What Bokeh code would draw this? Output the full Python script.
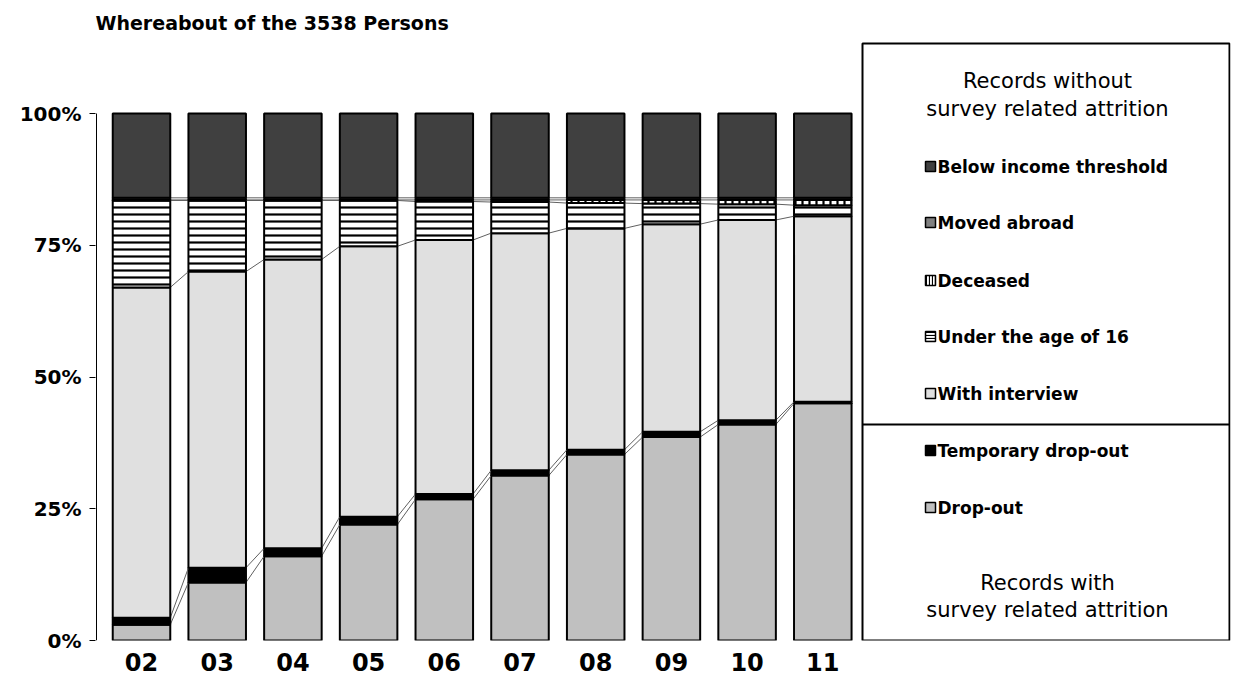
from bokeh.plotting import figure
from bokeh.models import Label, FixedTicker, Range1d
from bokeh.embed import file_html
from bokeh.resources import INLINE

years = ['02', '03', '04', '05', '06', '07', '08', '09', '10', '11']
# shares in percent, bottom to top
dropout = [3.0, 11.0, 16.0, 22.0, 26.8, 31.3, 35.3, 38.6, 41.0, 45.0]
temp_dropout = [1.3, 2.8, 1.5, 1.5, 1.0, 1.0, 0.9, 1.0, 0.8, 0.3]
interview = [62.7, 56.2, 54.8, 51.3, 48.2, 45.0, 42.0, 39.4, 38.0, 35.2]
under16 = [16.5, 13.5, 11.2, 8.7, 7.3, 5.9, 4.8, 3.9, 3.0, 2.1]
deceased = [0.1, 0.1, 0.1, 0.1, 0.3, 0.4, 0.6, 0.7, 0.8, 1.0]
moved = [0.4, 0.4, 0.4, 0.4, 0.4, 0.4, 0.4, 0.4, 0.4, 0.4]
below_income = [16.0, 16.0, 16.0, 16.0, 16.0, 16.0, 16.0, 16.0, 16.0, 16.0]

layers = [
    (dropout, '#c0c0c0', None),
    (temp_dropout, '#000000', None),
    (interview, '#e0e0e0', None),
    (under16, 'white', 'horizontal_line'),
    (deceased, 'white', 'vertical_line'),
    (moved, '#808080', None),
    (below_income, '#404040', None),
]
names = ['Drop-out', 'Temporary drop-out', 'With interview', 'Under the age of 16',
         'Deceased', 'Moved abroad', 'Below income threshold']

FONT = 'DejaVu Sans'
x = list(range(len(years)))
half = 0.38

# helpers: page pixel -> data coordinates (100% at y=113, 0% at y=640, bars 75.7px apart)
def vy(py):
    return (640 - py) / 5.27

def vx(px):
    return (px - 141) / 75.7

p = figure(width=1232, height=690, x_range=Range1d(vx(95), vx(1230)), y_range=Range1d(0, vy(8)),
           output_backend="svg", toolbar_location=None,
           min_border_left=95, min_border_right=2, min_border_top=8, min_border_bottom=50)
p.outline_line_color = None
p.grid.visible = False

bottoms = [0.0] * len(years)
for n, (vals, col, hatch) in enumerate(layers):
    tops = [b + v for b, v in zip(bottoms, vals)]
    kw = dict(hatch_pattern=hatch, hatch_color='black', hatch_scale=7, hatch_weight=2.2) if hatch else {}
    p.vbar(x=x, width=2 * half, bottom=bottoms, top=tops, fill_color=col,
           line_color='black', line_width=2, **kw)
    # connector lines between bars (not on top of the last layer)
    if n < len(layers) - 1:
        p.segment(x0=[i + half for i in x[:-1]], y0=tops[:-1], x1=[i - half for i in x[1:]],
                  y1=tops[1:], line_color='#606060', line_width=1)
    bottoms = tops

# y axis line only from 0 to 100
p.segment(x0=[vx(96)], y0=[0], x1=[vx(96)], y1=[100], line_color='black', line_width=1)

p.yaxis.ticker = FixedTicker(ticks=[0, 25, 50, 75, 100])
p.yaxis.major_label_overrides = {0: '0%', 25: '25%', 50: '50%', 75: '75%', 100: '100%'}
p.xaxis.ticker = FixedTicker(ticks=x)
p.xaxis.major_label_overrides = {i: y for i, y in enumerate(years)}
for ax in (p.xaxis, p.yaxis):
    ax.major_label_text_font = FONT
    ax.major_label_text_font_style = 'bold'
    ax.major_label_text_color = 'black'
    ax.axis_line_color = None
    ax.minor_tick_line_color = None
p.yaxis.major_label_text_font_size = '20px'
p.xaxis.major_label_text_font_size = '24px'
p.xaxis.major_tick_line_color = None
p.xaxis.major_label_standoff = 6
p.yaxis.major_tick_in = 0
p.yaxis.major_tick_out = 6
p.yaxis.major_label_standoff = 8

p.add_layout(Label(x=vx(95), y=vy(22), text='Whereabout of the 3538 Persons', text_font=FONT,
                   text_font_style='bold', text_font_size='19px', text_color='black',
                   text_baseline='middle'))

# legend panel
p.quad(left=[vx(862)], right=[vx(1229)], bottom=[vy(640)], top=[vy(43)], fill_color=None,
       line_color='black', line_width=2)
p.segment(x0=[vx(862)], y0=[vy(424)], x1=[vx(1229)], y1=[vy(424)], line_color='black', line_width=2)

entry_y = [507, 450, 393, 336, 280, 222, 166]
for (vals, col, hatch), nm, py in zip(layers, names, entry_y):
    kw = dict(hatch_pattern=hatch, hatch_color='black', hatch_scale=3, hatch_weight=1.2) if hatch else {}
    p.rect(x=[vx(930)], y=[vy(py)], width=10, height=10, width_units='screen', height_units='screen',
           fill_color=col, line_color='black', line_width=1.5, **kw)
    p.add_layout(Label(x=vx(937), y=vy(py), text=nm, text_font=FONT, text_font_style='bold',
                       text_font_size='17px', text_baseline='middle', text_color='black'))

for txt, py in [('Records without', 80), ('survey related attrition', 108),
                ('Records with', 582), ('survey related attrition', 609)]:
    p.add_layout(Label(x=vx(1047), y=vy(py), text=txt, text_font=FONT,
                       text_font_size='21px', text_align='center',
                       text_baseline='middle', text_color='black'))

open("out.html", "w").write(file_html(p, INLINE))
